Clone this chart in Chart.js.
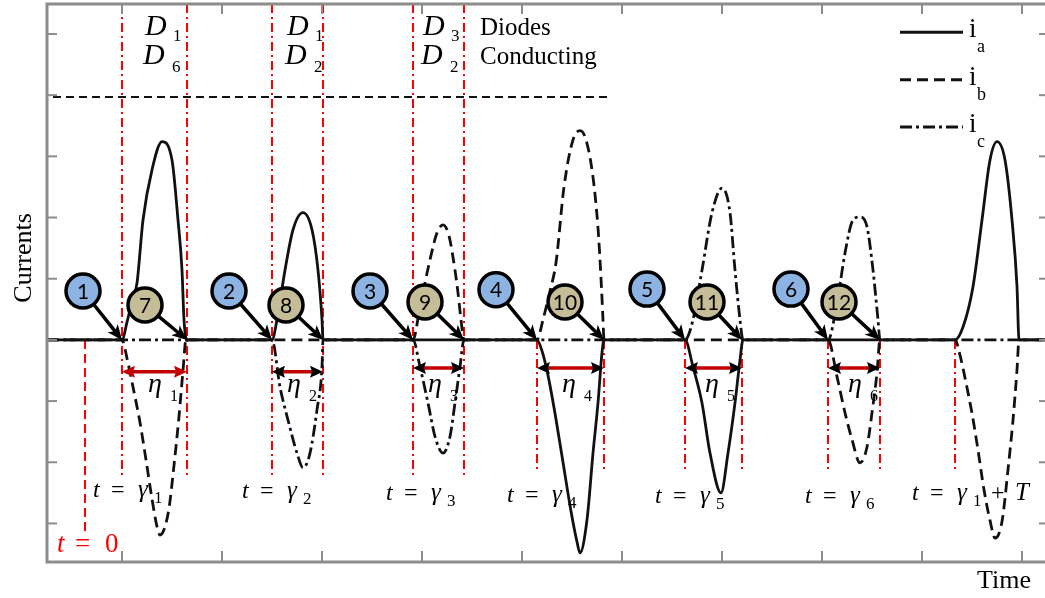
<!DOCTYPE html>
<html lang="en">
<head>
<meta charset="UTF-8">
<title>Currents</title>
<script src="https://cdn.jsdelivr.net/npm/chart.js@4"></script>
<style>
    body { margin: 0; overflow: hidden; background: #fff; }
    #wrap { position: absolute; left: 0; top: 0; width: 1050px; height: 598px; }
</style>
</head>
<body>
<div id="wrap"><canvas id="currentsChart" width="1050" height="598"></canvas></div>
<script>
    // axis ticks (time units of 100px, current units)
    const xTicks = [0, 1, 2, 3, 4, 5, 6, 7, 8, 9];
    const yTicks = [-3, -2, -1, 0, 1, 2, 3, 4, 5];

    // phase currents, [time, current]
    const iaPoints = [
        [-0.75, 0], [0, 0], [0.05, 0.29], [0.08, 0.49], [0.15, 0.93], [0.21, 1.96], [0.30, 2.78], [0.40, 3.24],
        [0.50, 2.94], [0.56, 1.96], [0.60, 1.14], [0.62, 0.33], [0.65, 0],
        [1.50, 0], [1.55, 0.33], [1.63, 1.14], [1.71, 1.80], [1.81, 2.08], [1.90, 1.80], [1.96, 1.14], [2.00, 0.33], [2.01, 0],
        [4.15, 0], [4.20, -0.18], [4.26, -0.58], [4.33, -1.20], [4.41, -2.00], [4.49, -2.80], [4.55, -3.30], [4.58, -3.48],
        [4.65, -2.94], [4.71, -1.85], [4.76, -1.03], [4.80, -0.21], [4.82, 0],
        [5.63, 0], [5.71, -0.44], [5.80, -1.03], [5.88, -1.85], [5.99, -2.50], [6.06, -1.85], [6.13, -1.03], [6.18, -0.33], [6.21, 0],
        [8.33, 0], [8.41, 0.21], [8.51, 0.87], [8.60, 1.96], [8.68, 2.94], [8.75, 3.24], [8.83, 2.94], [8.90, 1.96], [8.95, 0.87], [8.97, 0],
        [9.25, 0]
    ];
    const ibPoints = [
        [-0.75, 0], [0, 0], [0.05, -0.30], [0.11, -0.77], [0.18, -1.35], [0.24, -1.96], [0.30, -2.60], [0.35, -3.05], [0.38, -3.19],
        [0.42, -3.10], [0.47, -2.75], [0.52, -2.05], [0.57, -1.25], [0.61, -0.50], [0.64, 0],
        [2.91, 0], [2.98, 0.54], [3.08, 1.31], [3.15, 1.75], [3.21, 1.88], [3.27, 1.70], [3.33, 1.14], [3.36, 0.77], [3.39, 0.33], [3.42, 0],
        [4.15, 0], [4.21, 0.33], [4.28, 0.80], [4.34, 1.26], [4.42, 2.50], [4.51, 3.27], [4.58, 3.42], [4.64, 3.27],
        [4.71, 2.66], [4.76, 1.83], [4.79, 1.01], [4.81, 0.33], [4.82, 0],
        [7.06, 0], [7.15, -0.60], [7.23, -1.19], [7.30, -1.63], [7.38, -2.01], [7.45, -1.75], [7.50, -1.19], [7.55, -0.54], [7.58, 0],
        [8.33, 0], [8.38, -0.25], [8.44, -0.70], [8.50, -1.20], [8.56, -1.80], [8.62, -2.45], [8.68, -2.95], [8.73, -3.24],
        [8.80, -2.97], [8.86, -2.12], [8.91, -1.31], [8.95, -0.49], [8.97, 0],
        [9.25, 0]
    ];
    const icPoints = [
        [-0.75, 0], [1.50, 0], [1.58, -0.77], [1.66, -1.31], [1.75, -1.85], [1.81, -2.09], [1.88, -1.85], [1.95, -1.14], [2.00, -0.44], [2.01, 0],
        [2.91, 0], [2.98, -0.44], [3.06, -1.03], [3.13, -1.58], [3.21, -1.85], [3.28, -1.58], [3.33, -1.03], [3.38, -0.44], [3.42, 0],
        [5.63, 0], [5.71, 0.33], [5.80, 1.14], [5.90, 2.08], [6.00, 2.48], [6.08, 2.08], [6.13, 1.14], [6.18, 0.33], [6.21, 0],
        [7.06, 0], [7.15, 0.60], [7.23, 1.42], [7.31, 1.96], [7.38, 2.01], [7.45, 1.85], [7.51, 1.14], [7.56, 0.33], [7.58, 0],
        [9.25, 0]
    ];
    const seriesNames = ['a', 'b', 'c'];

    // conduction boundaries (red markers)
    const upperMarks = [0, 0.65, 1.5, 2.01, 2.91, 3.42];
    const lowerMarks = [4.15, 4.82, 5.63, 6.2, 7.06, 7.58, 8.33];
    const startMark = -0.37;

    // conduction intervals eta
    const etaFrom = [0, 1.5, 2.91, 4.15, 5.63, 7.06];
    const etaTo = [0.65, 2.01, 3.42, 4.82, 6.2, 7.58];
    const etaY = [-0.52, -0.52, -0.46, -0.46, -0.46, -0.46];
    const etaLabelX = [0.26, 1.65, 3.06, 4.40, 5.83, 7.26];

    // t = gamma labels
    const gammaSubs = ['1', '2', '3', '4', '5', '6', '1'];
    const gammaX = [-0.29, 1.20, 2.64, 3.85, 5.33, 6.83, 7.90];
    const gammaY = [-2.57, -2.58, -2.61, -2.65, -2.66, -2.66, -2.61];

    // numbered callouts
    const markerNums = [1, 7, 2, 8, 3, 9, 4, 10, 5, 11, 6, 12];
    const markerX = [-0.39, 0.23, 1.07, 1.64, 2.48, 3.03, 3.74, 4.43, 5.25, 5.85, 6.69, 7.17];
    const markerY = [0.80, 0.57, 0.80, 0.57, 0.80, 0.62, 0.82, 0.62, 0.83, 0.62, 0.83, 0.62];
    const markerTarget = [0, 0.65, 1.5, 2.01, 2.91, 3.42, 4.15, 4.82, 5.63, 6.2, 7.06, 7.58];

    // diode pairs
    const diodeTop = ['1', '1', '3'];
    const diodeBottom = ['6', '2', '2'];
    const diodeX = [0.23, 1.65, 3.01];

    const serif = '"Liberation Serif", "Times New Roman", serif';

    function text(ctx, str, x, y, size, opts = {}) {
        ctx.font = (opts.italic ? 'italic ' : '') + size + 'px ' + (opts.family || serif);
        ctx.fillStyle = opts.color || '#000';
        ctx.textAlign = opts.align || 'left';
        ctx.textBaseline = opts.baseline || 'alphabetic';
        ctx.fillText(str, x, y);
    }

    function line(ctx, x1, y1, x2, y2) {
        ctx.beginPath();
        ctx.moveTo(x1, y1);
        ctx.lineTo(x2, y2);
        ctx.stroke();
    }

    function head(ctx, x1, y1, x2, y2, len, half, notch) {
        const a = Math.atan2(y2 - y1, x2 - x1);
        const c = Math.cos(a), s = Math.sin(a);
        ctx.beginPath();
        ctx.moveTo(x2, y2);
        ctx.lineTo(x2 - len * c + half * s, y2 - len * s - half * c);
        ctx.lineTo(x2 - (len - notch) * c, y2 - (len - notch) * s);
        ctx.lineTo(x2 - len * c - half * s, y2 - len * s + half * c);
        ctx.closePath();
        ctx.fill();
    }

    const sketchPlugin = {
        id: 'sketch',
        beforeDatasetsDraw(chart) {
            const ctx = chart.ctx;
            const xs = chart.scales.x, ys = chart.scales.y;
            const X = v => xs.getPixelForValue(v), Y = v => ys.getPixelForValue(v);
            ctx.save();
            ctx.strokeStyle = '#ff0000';
            ctx.lineWidth = 2;
            ctx.setLineDash([9, 4, 2, 4]);
            upperMarks.forEach(v => line(ctx, X(v), Y(5.49), X(v), Y(-2.27)));
            lowerMarks.forEach(v => line(ctx, X(v), Y(0), X(v), Y(-2.17)));
            ctx.setLineDash([9, 5]);
            line(ctx, X(startMark), Y(0), X(startMark), Y(-3.19));
            // separator under the diode labels
            ctx.strokeStyle = '#111';
            ctx.setLineDash([8, 5]);
            line(ctx, X(-0.69), Y(3.97), X(4.90), Y(3.97));
            ctx.restore();
        },
        afterDatasetsDraw(chart) {
            const ctx = chart.ctx;
            const area = chart.chartArea;
            const xs = chart.scales.x, ys = chart.scales.y;
            const X = v => xs.getPixelForValue(v), Y = v => ys.getPixelForValue(v);
            ctx.save();

            // frame and inward ticks
            ctx.strokeStyle = '#8c8c8c';
            ctx.lineWidth = 2;
            xTicks.forEach(v => {
                line(ctx, X(v), area.top, X(v), area.top + 10);
                line(ctx, X(v), area.bottom, X(v), area.bottom - 11);
            });
            yTicks.forEach(v => {
                line(ctx, area.left, Y(v), area.left + 10, Y(v));
                line(ctx, area.right, Y(v), area.right - 8, Y(v));
            });
            ctx.lineWidth = 3;
            ctx.strokeRect(area.left, area.top, area.right - area.left, area.bottom - area.top);

            // eta double arrows
            ctx.strokeStyle = '#c00000';
            ctx.fillStyle = '#c00000';
            ctx.lineWidth = 3.5;
            etaFrom.forEach((a, i) => {
                const x1 = X(a), x2 = X(etaTo[i]), y = Y(etaY[i]);
                line(ctx, x1 + 8, y, x2 - 8, y);
                head(ctx, x2, y, x1, y, 13, 6, 2);
                head(ctx, x1, y, x2, y, 13, 6, 2);
                const lx = X(etaLabelX[i]), ly = Y(-0.85);
                text(ctx, 'η', lx, ly, 28, { italic: true });
                text(ctx, String(i + 1), lx + 22, ly + 9, 16);
            });

            // callouts
            markerNums.forEach((n, i) => {
                const cx = X(markerX[i]), cy = Y(markerY[i]);
                const tx = X(markerTarget[i]), ty = Y(0);
                const r = 17;
                const a = Math.atan2(ty - cy, tx - cx);
                const sx = cx + r * Math.cos(a), sy = cy + r * Math.sin(a);
                ctx.strokeStyle = '#000';
                ctx.fillStyle = '#000';
                ctx.lineWidth = 3.5;
                line(ctx, sx, sy, tx - 10 * Math.cos(a), ty - 10 * Math.sin(a));
                head(ctx, sx, sy, tx, ty, 15, 6.5, 4);
                ctx.beginPath();
                ctx.arc(cx, cy, r, 0, Math.PI * 2);
                ctx.fillStyle = n <= 6 ? '#8db3e2' : '#c4bd97';
                ctx.fill();
                ctx.lineWidth = 3.5;
                ctx.stroke();
                text(ctx, String(n), cx, cy + 1, 21, { family: 'Lato, "Open Sans", sans-serif', align: 'center', baseline: 'middle' });
            });

            // t = gamma labels
            gammaSubs.forEach((s, i) => {
                const gx = X(gammaX[i]), gy = Y(gammaY[i]);
                text(ctx, 't', gx, gy, 24, { italic: true });
                text(ctx, '=', gx + 18, gy, 24);
                text(ctx, 'γ', gx + 45, gy, 25, { italic: true });
                text(ctx, s, gx + 61, gy + 6, 17);
                if (i === gammaSubs.length - 1) {
                    text(ctx, '+', gx + 79, gy, 24);
                    text(ctx, 'T', gx + 103, gy, 25, { italic: true });
                }
            });

            // t = 0
            const zx = X(startMark), zy = Y(-3.46);
            text(ctx, 't', zx - 28, zy, 27, { italic: true, color: '#ff0000' });
            text(ctx, '=', zx - 10, zy, 27, { color: '#ff0000' });
            text(ctx, '0', zx + 20, zy, 27, { color: '#ff0000' });

            // diode labels
            diodeX.forEach((d, i) => {
                const dx = X(d);
                text(ctx, 'D', dx, Y(4.98), 30, { italic: true });
                text(ctx, diodeTop[i], dx + 28, Y(4.98) + 6, 17);
                text(ctx, 'D', dx - 2, Y(4.51), 30, { italic: true });
                text(ctx, diodeBottom[i], dx + 27, Y(4.51) + 8, 17);
            });
            text(ctx, 'Diodes', X(3.58), Y(4.98), 25);
            text(ctx, 'Conducting', X(3.58), Y(4.51), 25);

            // legend
            const legY = [5.03, 4.25, 3.48];
            chart.data.datasets.forEach((ds, i) => {
                ctx.strokeStyle = '#111';
                ctx.lineWidth = 3;
                ctx.setLineDash(ds.borderDash || []);
                line(ctx, X(7.78), Y(legY[i]), X(8.41), Y(legY[i]));
                ctx.setLineDash([]);
                text(ctx, 'i', X(8.47), Y(legY[i]) + 5, 27);
                text(ctx, seriesNames[i], X(8.55), Y(legY[i]) + 20, 18);
            });

            // axis titles
            text(ctx, 'Time', X(8.55), Y(-4.05), 26);
            ctx.save();
            ctx.translate(X(-0.98), Y(1.34));
            ctx.rotate(-Math.PI / 2);
            text(ctx, 'Currents', 0, 0, 26, { align: 'center', baseline: 'middle' });
            ctx.restore();

            ctx.restore();
        }
    };

    const toXY = pts => pts.map(p => ({ x: p[0], y: p[1] }));

    const ctx = document.getElementById('currentsChart').getContext('2d');
    new Chart(ctx, {
        type: 'line',
        data: {
            datasets: [
                { label: 'ia', data: toXY(iaPoints), borderColor: '#111', borderWidth: 2.8, borderDash: [] },
                { label: 'ib', data: toXY(ibPoints), borderColor: '#111', borderWidth: 2.8, borderDash: [11, 6] },
                { label: 'ic', data: toXY(icPoints), borderColor: '#111', borderWidth: 2.8, borderDash: [12, 4, 3, 4] }
            ]
        },
        options: {
            responsive: false,
            animation: false,
            events: [],
            layout: { padding: { left: 47, top: 4, right: 3, bottom: 36 } },
            elements: {
                point: { radius: 0 },
                line: { cubicInterpolationMode: 'monotone', fill: false }
            },
            scales: {
                x: { type: 'linear', min: -0.75, max: 9.25, display: false },
                y: { type: 'linear', min: -3.63, max: 5.49, display: false }
            },
            plugins: {
                legend: { display: false },
                tooltip: { enabled: false }
            }
        },
        plugins: [sketchPlugin]
    });
</script>
</body>
</html>
